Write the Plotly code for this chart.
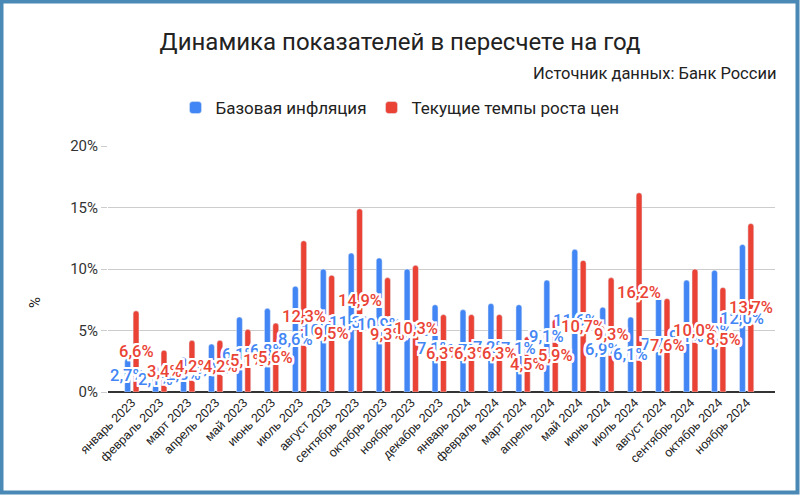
import plotly.graph_objects as go

months = ["январь 2023", "февраль 2023", "март 2023", "апрель 2023", "май 2023", "июнь 2023",
          "июль 2023", "август 2023", "сентябрь 2023", "октябрь 2023", "ноябрь 2023", "декабрь 2023",
          "январь 2024", "февраль 2024", "март 2024", "апрель 2024", "май 2024", "июнь 2024",
          "июль 2024", "август 2024", "сентябрь 2024", "октябрь 2024", "ноябрь 2024"]
base_infl = [2.7, 2.1, 2.8, 3.9, 6.1, 6.8, 8.6, 10.0, 11.3, 10.9, 10.0, 7.1,
             6.7, 7.2, 7.1, 9.1, 11.6, 6.9, 6.1, 7.7, 9.1, 9.9, 12.0]
cur_rate = [6.6, 3.4, 4.2, 4.2, 5.1, 5.6, 12.3, 9.5, 14.9, 9.3, 10.3, 6.3,
            6.3, 6.3, 4.5, 5.9, 10.7, 9.3, 16.2, 7.6, 10.0, 8.5, 13.7]
y_ticks = [0, 5, 10, 15, 20]
y_tick_text = ["0%", "5%", "10%", "15%", "20%"]

BLUE = "#4285f4"
RED = "#ea4335"
FONT = "Roboto"

W, H = 800, 495
ML, MR, MT, MB = 108, 25, 146, 103

fig = go.Figure()
fig.add_trace(go.Bar(x=months, y=base_infl, name="Базовая инфляция", marker_color=BLUE))
fig.add_trace(go.Bar(x=months, y=cur_rate, name="Текущие темпы роста цен", marker_color=RED))

def fmt(v):
    return f"{v:.1f}".replace(".", ",") + "%"

outline = ", ".join(f"{dx}px {dy}px 0 #fff" for dx in (-2, -1, 0, 1, 2) for dy in (-2, -1, 0, 1, 2) if (dx, dy) != (0, 0))

bargap = 0.4
slot_px = (W - ML - MR) / len(months) * (1 - bargap) / 2
anns = []
for series, color, sign in ((base_infl, BLUE, -1), (cur_rate, RED, 1)):
    for m, v in zip(months, series):
        anns.append(dict(x=m, y=v / 2, text=fmt(v), showarrow=False, xshift=sign * slot_px / 2,
                         font=dict(family=FONT, size=16.5, color=color, weight=500, shadow=outline)))

pw = W - ML - MR
ph = H - MT - MB
border = dict(type="rect", xref="paper", yref="paper", layer="above",
              x0=(-ML + 1.5) / pw, x1=(pw + MR - 2.5) / pw,
              y0=(-MB + 2.5) / ph, y1=(ph + MT - 1.5) / ph,
              line=dict(color="#4a89b6", width=4), fillcolor="rgba(0,0,0,0)")

anns.append(dict(text="Источник данных: Банк России", xref="paper", yref="paper",
                 x=(pw + 3) / pw, y=(ph + MT - 74) / ph, xanchor="right", yanchor="middle",
                 showarrow=False, font=dict(family=FONT, size=16.5, color="#222")))
anns.append(dict(text="%", xref="paper", yref="paper", textangle=-90,
                 x=(35 - ML) / pw, y=(H - MB - 303) / ph, xanchor="center", yanchor="middle",
                 showarrow=False, font=dict(family=FONT, size=15, color="#222")))

fig.update_layout(
    width=W, height=H,
    margin=dict(l=ML, r=MR, t=MT, b=MB, autoexpand=False),
    paper_bgcolor="white", plot_bgcolor="white",
    font=dict(family=FONT, color="#222"),
    title=dict(text="Динамика показателей в пересчете на год", x=0.5, xanchor="center",
               y=1 - 42 / H, yanchor="middle", font=dict(family=FONT, size=24, color="#222")),
    barmode="group", bargap=bargap, bargroupgap=0.3, barcornerradius=3,
    legend=dict(orientation="h", x=0.5, xanchor="center", xref="container",
                y=1 - 108 / H, yref="container", yanchor="middle",
                font=dict(family=FONT, size=17, color="#222"), itemwidth=30),
    xaxis=dict(tickangle=-45, tickfont=dict(family="Liberation Sans", size=12.5, color="#222"),
               showgrid=False, showline=False, ticks="", automargin=False),
    yaxis=dict(range=[0, 20], tickvals=y_ticks, ticktext=y_tick_text,
               tickfont=dict(family=FONT, size=15, color="#333"),
               gridcolor="#cccccc", zeroline=True, zerolinecolor="#333", zerolinewidth=1.5,
               ticks="outside", ticklen=6, tickcolor="#cccccc", automargin=False),
    annotations=anns,
    shapes=[border],
)

fig.write_html("out.html", post_script="document.body.style.margin='0';",
               config={"displayModeBar": False})
